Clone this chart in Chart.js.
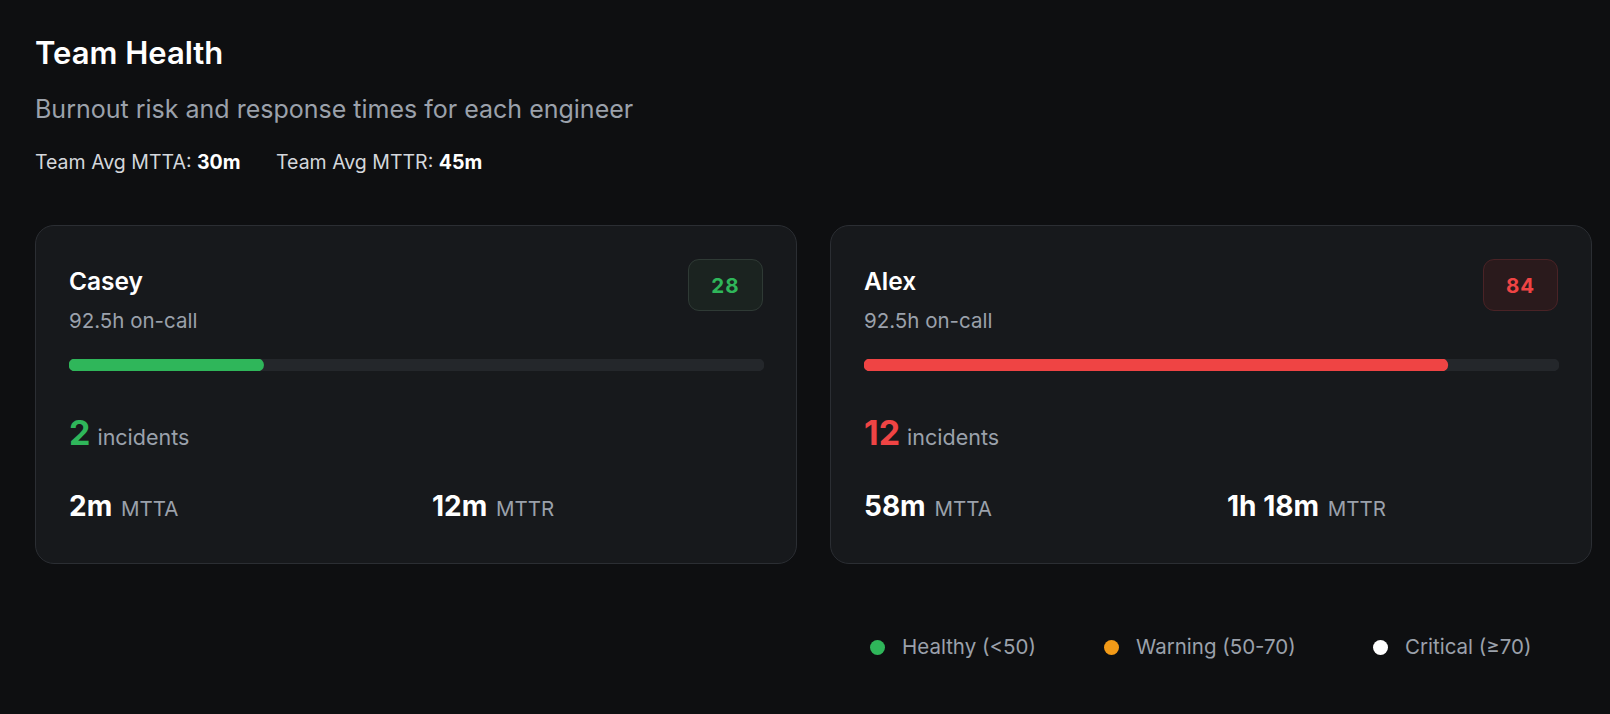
<!DOCTYPE html>
<html>
<head>
<meta charset="utf-8">
<script src="https://cdn.jsdelivr.net/npm/chart.js@4"></script>
<style>
  body { margin: 0; background: #0e0f11; font-family: Inter, "Noto Sans", sans-serif; color: #fff; width: 1610px; height: 714px; overflow: hidden; }
  h1 { position: absolute; left: 35px; top: 34px; margin: 0; font-size: 31px; font-weight: 600; white-space: nowrap; }
  .sub { position: absolute; left: 35px; top: 94px; font-size: 25px; color: #9ba1ab; white-space: nowrap; }
  .avg { position: absolute; left: 35px; top: 150px; font-size: 19.5px; color: #d4d7dc; white-space: nowrap; }
  .avg b { color: #fff; font-weight: 700; margin-right: 30px; }
  .card { position: absolute; top: 225px; width: 760px; height: 337px; background: #17191c; border: 1px solid #2b2e33; border-radius: 19px; }
  .name { position: absolute; left: 33px; top: 40px; font-size: 24.5px; font-weight: 600; }
  .oncall { position: absolute; left: 33px; top: 82px; font-size: 20.5px; color: #9ba1ab; }
  .badge { position: absolute; left: 652px; top: 33px; width: 73px; height: 50px; border-radius: 11px; font-size: 20.5px; font-weight: 700; display: flex; align-items: center; justify-content: center; letter-spacing: 1px; }
  .bar { position: absolute; left: 33px; top: 131px; width: 695px; height: 15px; }
  .inc { position: absolute; left: 33px; top: 186px; font-size: 21.5px; color: #9ba1ab; white-space: nowrap; }
  .inc span { font-size: 34px; font-weight: 700; margin-right: 7px; }
  .m { position: absolute; top: 263px; font-size: 20.5px; color: #9ba1ab; white-space: nowrap; }
  .m span { font-size: 28px; font-weight: 700; color: #fff; margin-right: 3px; }
  .legend { position: absolute; top: 634px; font-size: 20.5px; color: #9ba1ab; white-space: nowrap; }
  .legend i { display: inline-block; width: 15px; height: 15px; border-radius: 50%; margin-right: 17px; vertical-align: -1px; }
</style>
</head>
<body>
<h1>Team Health</h1>
<div class="sub">Burnout risk and response times for each engineer</div>
<div class="avg">Team Avg MTTA: <b>30m</b> Team Avg MTTR: <b>45m</b></div>
<div id="cards"></div>
<div class="legend" style="left:870px"><i style="background:#2fb65a"></i>Healthy (&lt;50)</div>
<div class="legend" style="left:1104px"><i style="background:#f29a17"></i>Warning (50-70)</div>
<div class="legend" style="left:1373px"><i style="background:#ffffff"></i>Critical (≥70)</div>
<script>
const engineers = ['Casey', 'Alex'];
const scores = [28, 84];
const onCallHours = ['92.5h', '92.5h'];
const incidents = [2, 12];
const mtta = ['2m', '58m'];
const mttr = ['12m', '1h 18m'];
const scoreMax = 100;

const cardLeft = [35, 830];
function colorFor(s) { return s < 50 ? '#2fb65a' : s < 70 ? '#f29a17' : '#ef4444'; }
const box = document.getElementById('cards');
engineers.forEach((n, i) => {
  const c = colorFor(scores[i]);
  const badgeBg = scores[i] < 50 ? '#1b2320' : '#2a1a1c';
  const badgeBd = scores[i] < 50 ? '#2f3a35' : '#4a2326';
  const d = document.createElement('div');
  d.className = 'card';
  d.style.left = cardLeft[i] + 'px';
  d.innerHTML = `<div class="name">${n}</div><div class="oncall">${onCallHours[i]} on-call</div>
    <div class="badge" style="color:${c};background:${badgeBg};border:1px solid ${badgeBd}">${scores[i]}</div>
    <div class="bar"><canvas id="bar${i}"></canvas></div>
    <div class="inc"><span style="color:${c}">${incidents[i]}</span>incidents</div>
    <div class="m" style="left:33px"><span>${mtta[i]}</span> MTTA</div>
    <div class="m" style="left:396px"><span>${mttr[i]}</span> MTTR</div>`;
  box.appendChild(d);
  new Chart(document.getElementById('bar' + i), {
    type: 'bar',
    data: {
      labels: [n],
      datasets: [
        { data: [scores[i]], backgroundColor: c, borderRadius: 6, borderSkipped: false, order: 0 },
        { data: [scoreMax], backgroundColor: '#24272b', borderRadius: 6, borderSkipped: false, order: 1 }
      ]
    },
    options: {
      indexAxis: 'y', responsive: true, maintainAspectRatio: false, animation: false,
      layout: { padding: { top: 2, bottom: 1 } },
      datasets: { bar: { grouped: false, barPercentage: 1, categoryPercentage: 1 } },
      plugins: { legend: { display: false }, tooltip: { enabled: false } },
      scales: { x: { display: false, min: 0, max: scoreMax }, y: { display: false } }
    }
  });
});
</script>
</body>
</html>
